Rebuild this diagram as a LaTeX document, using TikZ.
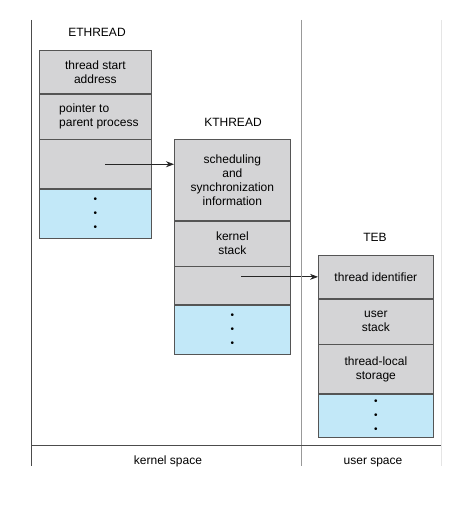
\documentclass[tikz,border=0pt]{standalone}
\usepackage{fontspec}
\setmainfont{Liberation Sans}
\usetikzlibrary{positioning,arrows.meta}
\definecolor{cellgray}{RGB}{212,212,214}
\definecolor{cellblue}{RGB}{194,232,248}
\definecolor{cellline}{RGB}{85,85,85}
\begin{document}
\begin{tikzpicture}[x=1pt,y=-1pt,
font=\fontsize{12}{14}\selectfont,
cell/.style={draw=cellline,fill=cellgray,align=center,inner sep=0pt,line width=0.7pt},
more/.style={cell,fill=cellblue,font=\fontsize{10}{14}\selectfont},
title/.style={inner sep=0pt},
ptr/.style={-{Stealth[length=8pt,width=6pt]},line width=0.8pt,black!85},]
\useasboundingbox (0,0) rectangle (474,516);

% ETHREAD
\node[title] (ethread) at (97,32) {ETHREAD};
\node[cell,minimum width=112pt,minimum height=43pt,anchor=north west] (e1) at (39,50) {thread start\\address};
\node[cell,minimum width=112pt,minimum height=45pt,below=0pt of e1] (e2) {};
\node[title,anchor=west,align=left] (e2text) at ([xshift=20pt]e2.west) {pointer to\\parent process};
\node[cell,minimum width=112pt,minimum height=49pt,below=0pt of e2] (e3) {};
\node[more,minimum width=112pt,minimum height=49pt,below=0pt of e3] (e4) {\textbullet\\\textbullet\\\textbullet};

% KTHREAD
\node[title] (kthread) at (233,122) {KTHREAD};
\node[cell,minimum width=116pt,minimum height=81pt,anchor=north west] (k1) at (174,139) {scheduling\\and\\synchronization\\information};
\node[cell,minimum width=116pt,minimum height=45pt,below=0pt of k1] (k2) {kernel\\stack};
\node[cell,minimum width=116pt,minimum height=38pt,below=0pt of k2] (k3) {};
\node[more,minimum width=116pt,minimum height=49pt,below=0pt of k3] (k4) {\textbullet\\\textbullet\\\textbullet};

% TEB
\node[title] (teb) at (375,237) {TEB};
\node[cell,minimum width=115pt,minimum height=43pt,anchor=north west] (t1) at (318,255) {thread identifier};
\node[cell,minimum width=115pt,minimum height=45pt,below=0pt of t1] (t2) {user\\stack};
\node[cell,minimum width=115pt,minimum height=49pt,below=0pt of t2] (t3) {thread-local\\storage};
\node[more,minimum width=115pt,minimum height=43pt,below=0pt of t3] (t4) {\textbullet\\\textbullet\\\textbullet};

% pointers
\coordinate (p1) at ([xshift=10pt]e3.center);
\coordinate (p2) at (241,0 |- t1.west);
\draw[ptr] (p1) -- (k1.west |- p1);
\draw[ptr] (p2) -- (t1.west);

% spaces
\draw[black!70,line width=0.7pt] (31,20) -- (31,466);
\draw[black!40,line width=1pt] (301,20) -- (301,466);
\draw[black!10,line width=0.8pt] (441,20) -- (441,466);
\draw[black!70,line width=0.7pt] (31,445) -- (441,445);
\node[title,anchor=base] (kspace) at (168,464) {kernel space};
\node[title,anchor=base] (uspace) at (373,464) {user space};
\end{tikzpicture}
\end{document}
